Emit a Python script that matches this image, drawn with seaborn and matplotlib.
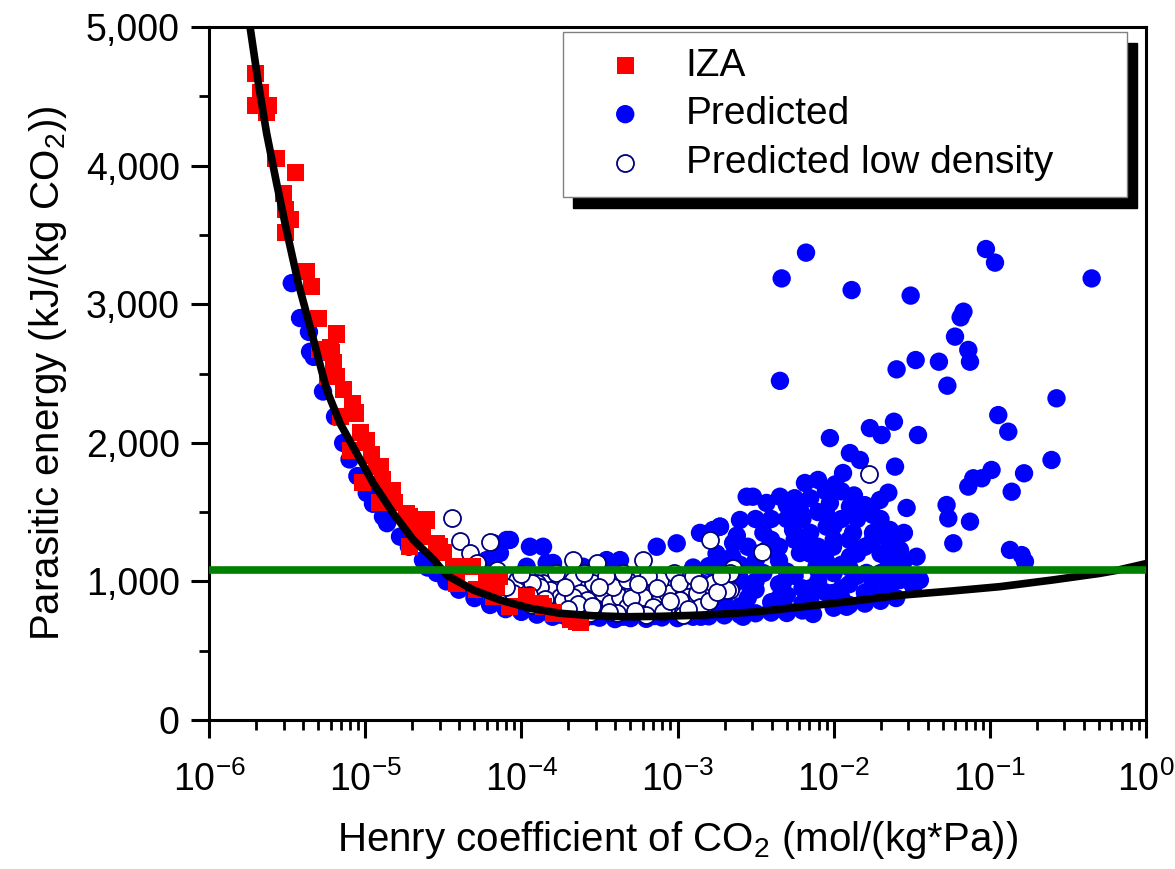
import numpy as np
import pandas as pd
import matplotlib
matplotlib.use("Agg")
import matplotlib.pyplot as plt
import seaborn as sns
from matplotlib.ticker import LogLocator, MultipleLocator, FuncFormatter, NullFormatter

# ---------------- data (log10 of Henry coefficient, parasitic energy) ----------------
iza_log10_h = [-5.701, -5.673, -5.705, -5.622, -5.630, -5.571, -5.449, -5.520, -5.513, -5.481,
               -5.513, -5.374, -5.342, -5.300, -5.182, -5.225, -5.214, -5.205, -5.182, -5.141,
               -5.078, -5.065, -5.033, -5.001, -4.958, -4.926, -4.886, -4.841, -4.809, -4.734,
               -4.694, -4.649, -4.713, -4.542, -5.014, -4.905, -5.097, -5.161, -5.238, -5.290,
               -5.182, -4.990, -4.905, -4.822, -4.713, -4.630, -4.521, -4.437, -4.414, -4.286,
               -4.222, -4.181, -3.966, -3.880, -3.797, -3.646, -4.073, -4.137, -4.310, -4.500,
               -4.606, -4.374, -4.158, -3.861, -3.688, -3.624]
iza_energy = [4661, 4524, 4437, 4437, 4380, 4048, 3947, 3802, 3680, 3608,
              3514, 3235, 3126, 2900, 2778, 2691, 2648, 2576, 2477, 2381,
              2287, 2215, 2071, 1999, 1912, 1828, 1732, 1659, 1566, 1493,
              1395, 1323, 1250, 1277, 1710, 1566, 1948, 2189, 2477, 2670,
              2790, 2020, 1828, 1659, 1467, 1347, 1250, 1106, 988, 938,
              1010, 890, 890, 844, 772, 709, 817, 1034, 1106, 1205,
              1443, 1106, 962, 817, 722, 705]

pred_log10_h = [
    # left arm
    -5.470, -5.417, -5.353, -5.270, -5.193, -5.141, -4.990, -4.886, -4.777, -4.630,
    -4.542, -5.360, -5.330, -5.100, -5.050, -4.950, -4.860, -4.720, -4.600, -4.480,
    -4.400, -4.300, -4.200, -4.100, -4.000, -3.900,
    # around 1e-4 above the green line
    -4.181, -4.094, -4.073, -3.945, -3.861, -4.137, -4.222, -3.838, -3.797, -3.966,
    -3.605, -3.454, -3.368, -3.133, -3.005, -2.856, -2.773, -2.728, -2.557,
    # lower band
    -3.800, -3.700, -3.600, -3.500, -3.400, -3.300, -3.200, -3.100, -3.000, -2.900,
    -2.800, -2.700, -2.600, -2.500, -2.400, -2.300, -2.200, -2.132, -2.300, -2.580,
    -2.000, -1.900, -1.800, -1.700, -1.600,
    -3.750, -3.550, -3.350, -3.150, -2.950, -2.850,
    # between curve and green line
    -3.500, -3.400, -3.300, -3.200, -3.100, -3.000, -2.950, -2.900, -2.850, -2.800,
    -2.750, -2.700, -2.650, -2.600, -2.550, -2.500, -2.450, -2.400, -2.350, -2.300,
    -2.250, -2.200, -2.150, -2.100, -2.050, -2.000, -1.950, -1.900, -1.850, -1.800,
    -1.750, -1.700, -1.650, -1.600, -1.550, -1.500, -1.460, -2.600, -2.400, -2.200,
    -2.000, -1.800, -2.700, -2.500, -2.300, -2.100, -1.900, -2.850, -3.050, -2.350,
    -2.150, -1.950, -1.750, -1.650,
    # main cloud above green line
    -2.024, -1.768, -1.693, -1.614, -1.460, -1.896, -1.832, -1.940, -1.607, -2.184,
    -2.100, -2.517, -2.344, -2.430, -2.216, -2.024, -1.896, -1.704, -1.533, -1.748,
    -1.640, -1.876, -2.600, -2.728, -2.045, -2.260, -2.004, -1.575, -1.469, -1.448,
    -1.575, -2.430, -2.644, -2.216, -1.896, -2.110, -1.790, -1.684, -2.325, -2.536,
    -2.004, -2.152, -1.917, -2.300, -2.728, -1.490,
    -2.400, -2.300, -2.200, -2.100, -2.000, -1.950, -1.850, -1.800, -1.700, -1.650,
    -2.500, -2.350, -2.150, -2.050, -1.950, -1.600, -1.550, -2.700, -2.600, -2.800,
    -2.900, -1.750, -2.050, -2.250, -1.650,
    -2.750, -2.650, -2.550, -2.450, -2.400, -2.350, -2.300, -2.250, -2.200, -2.150,
    -2.100, -2.050, -2.000, -1.950, -1.900, -1.850, -1.800, -1.750, -1.700, -1.650,
    -1.600, -1.550, -2.500, -2.620, -2.150, -1.990, -1.870,
    # scattered high values
    -2.177, -2.333, -1.885, -1.507, -1.025, -0.967, -0.348, -1.169, -1.187, -1.223,
    -1.138, -1.127, -2.344, -1.597, -1.475, -1.326, -1.272, -0.573, -0.946, -0.882,
    -0.605, -0.781, -0.860, -0.989, -1.106, -1.052, -1.138, -1.277, -1.266, -1.127,
    -1.234, -0.871, -0.796, -0.775,
]
pred_energy = [
    3152, 2900, 2657, 2370, 2189, 1999, 1638, 1467, 1323, 1154,
    1061, 2800, 2620, 1880, 1760, 1560, 1420, 1250, 1100, 1000,
    940, 880, 830, 800, 780, 760,
    1277, 1299, 1299, 1250, 1250, 1205, 1154, 1133, 1133, 1106,
    1106, 1154, 1154, 1250, 1275, 1350, 1371, 1395, 1611,
    745, 735, 730, 738, 728, 735, 730, 740, 735, 745,
    748, 755, 760, 770, 775, 790, 790, 765, 780, 745,
    810, 830, 840, 860, 880,
    760, 750, 745, 750, 755, 745,
    800, 850, 900, 820, 880, 950, 1040, 860, 990, 920,
    1050, 840, 960, 1020, 880, 940, 1060, 850, 980, 900,
    1040, 950, 870, 1000, 920, 1060, 880, 980, 1040, 920,
    990, 1060, 950, 1010, 1070, 990, 1040, 820, 800, 840,
    880, 870, 900, 1000, 1070, 1080, 1100, 830, 800, 880,
    950, 950, 900, 1030,
    2034, 2106, 2056, 2152, 2056, 1926, 1876, 1782, 1828, 1710,
    1732, 1611, 1611, 1566, 1515, 1566, 1539, 1587, 1530, 1350,
    1371, 1350, 1443, 1395, 1395, 1371, 1250, 1227, 1178, 1010,
    1010, 1227, 1277, 1205, 1178, 1106, 1061, 1034, 988, 962,
    916, 866, 817, 772, 817, 962,
    1300, 1450, 1300, 1500, 1400, 1650, 1450, 1250, 1200, 1150,
    1150, 1150, 1200, 1150, 1120, 1120, 1150, 1150, 1120, 1110,
    1100, 1480, 1650, 1600, 1640,
    1200, 1180, 1250, 1350, 1450, 1250, 1550, 1300, 1450, 1350,
    1250, 1500, 1300, 1450, 1300, 1200, 1550, 1300, 1450, 1300,
    1250, 1350, 1450, 1330, 1600, 1700, 1620,
    3372, 3186, 3102, 3062, 3398, 3300, 3186, 2946, 2905, 2766,
    2670, 2585, 2447, 2530, 2597, 2585, 2412, 2321, 2200, 2080,
    1876, 1780, 1647, 1804, 1744, 1744, 1684, 1551, 1455, 1431,
    1275, 1227, 1190, 1142,
]

low_log10_h = [-4.445, -4.393, -4.329, -4.200, -3.669, -3.517, -3.221, -2.792, -2.645, -2.461,
               -1.772, -2.664, -2.837, -4.286, -4.158, -4.030, -3.861, -4.053, -3.966, -3.816,
               -3.752, -3.669, -3.624, -3.582, -3.541, -3.477, -3.432, -3.390, -3.368, -3.325,
               -3.285, -3.240, -3.176, -3.157, -3.112, -3.069, -3.048, -3.005, -2.965, -2.920,
               -2.877, -2.837, -2.773, -3.902, -3.880, -3.733, -3.669, -3.413, -3.325, -3.221,
               -3.157, -3.069, -2.984, -2.877, -2.856, -2.685, -2.664, -2.941, -3.112, -3.390,
               -3.560, -2.965, -3.200, -3.930,
               -3.950, -3.850, -3.780, -3.720, -3.640, -3.600, -3.550, -3.460, -3.440, -3.350,
               -3.300, -3.270, -3.190, -3.130, -3.090, -3.020, -2.990, -2.930, -2.900, -2.800,
               -2.750, -2.720, -4.100, -4.000, -3.930, -3.700, -3.500, -3.250, -3.050, -2.860]
low_energy = [1460, 1290, 1204, 1282, 1154, 1133, 1154, 1299, 1100, 1214,
              1775, 938, 916, 1133, 1082, 1010, 988, 916, 1034, 938,
              890, 1010, 916, 866, 988, 916, 844, 962, 890, 817,
              938, 866, 794, 916, 866, 817, 1010, 916, 817, 962,
              866, 794, 988, 988, 962, 866, 890, 962, 1010, 890,
              817, 916, 866, 916, 817, 938, 1061, 1010, 1010, 772,
              772, 760, 760, 990,
              900, 870, 1060, 960, 840, 1060, 820, 1040, 780, 1060,
              880, 790, 1040, 950, 780, 1060, 990, 800, 1040, 860,
              920, 1040, 960, 1050, 830, 800, 960, 980, 860, 980]

curve_log10_h = [-5.737, -5.684, -5.631, -5.567, -5.503, -5.428, -5.353, -5.246, -5.161, -5.054,
                 -4.948, -4.820, -4.692, -4.649, -4.564, -4.478, -4.308, -4.137, -3.945, -3.752,
                 -3.539, -3.325, -3.112, -2.899, -2.728, -2.500, -2.216, -1.900, -1.575, -1.250,
                 -0.935, -0.600, -0.295, -0.186, 0.000]
curve_energy = [5000, 4594, 4233, 3872, 3530, 3151, 2838, 2381, 2141, 1924,
                1708, 1491, 1300, 1252, 1160, 1045, 938, 866, 806, 770,
                752, 745, 748, 755, 763, 780, 815, 855, 900, 930,
                962, 1010, 1058, 1080, 1128]

threshold_energy = 1080

x_label = "Henry coefficient of CO$_2$ (mol/(kg*Pa))"
y_label = "Parasitic energy (kJ/(kg CO$_2$))"
series_labels = ["IZA", "Predicted", "Predicted low density"]

# ---------------- style ----------------
sns.set_style("ticks")
plt.rcParams['font.family'] = ['Liberation Sans', 'DejaVu Sans']
plt.rcParams['mathtext.fontset'] = 'custom'
plt.rcParams['mathtext.rm'] = 'Liberation Sans'
plt.rcParams['mathtext.it'] = 'Liberation Sans:italic'
plt.rcParams['mathtext.bf'] = 'Liberation Sans:bold'
for key in ['text.color', 'axes.labelcolor', 'xtick.color', 'ytick.color', 'axes.edgecolor']:
    plt.rcParams[key] = 'black'

W, H = 1175, 869
fig = plt.figure(figsize=(W / 100, H / 100), dpi=100)
ax = fig.add_axes([209 / W, 1 - 720 / H, (1146 - 209) / W, (720 - 27) / H])

pred_df = pd.DataFrame({"H": np.power(10.0, pred_log10_h), "E": pred_energy})
low_df = pd.DataFrame({"H": np.power(10.0, low_log10_h), "E": low_energy})
iza_df = pd.DataFrame({"H": np.power(10.0, iza_log10_h), "E": iza_energy})
curve_df = pd.DataFrame({"H": np.power(10.0, curve_log10_h), "E": curve_energy})

sns.scatterplot(data=pred_df, x="H", y="E", marker="o", s=175, color="#0000FF",
                edgecolor="none", linewidth=0, label=series_labels[1], ax=ax, zorder=2)
sns.scatterplot(data=low_df, x="H", y="E", marker="o", s=150, color="white",
                edgecolor="#000080", linewidth=1.3, label=series_labels[2], ax=ax, zorder=3)
sns.scatterplot(data=iza_df, x="H", y="E", marker="s", s=150, color="#FF0000",
                edgecolor="none", linewidth=0, label=series_labels[0], ax=ax, zorder=4)
sns.lineplot(data=curve_df, x="H", y="E", color="black", linewidth=5.5, estimator=None,
             ax=ax, zorder=5, legend=False)
ax.axhline(threshold_energy, color="#008000", linewidth=5.5, zorder=6)

ax.set_xscale("log")
ax.set_xlim(1e-6, 1)
ax.set_ylim(0, 5000)
ax.yaxis.set_major_locator(MultipleLocator(1000))
ax.yaxis.set_minor_locator(MultipleLocator(500))
ax.yaxis.set_major_formatter(FuncFormatter(lambda v, p: f"{int(round(v)):,}"))
ax.xaxis.set_major_locator(LogLocator(base=10, numticks=10))
ax.xaxis.set_minor_locator(LogLocator(base=10, subs=np.arange(2, 10), numticks=20))
ax.xaxis.set_minor_formatter(NullFormatter())

ax.tick_params(axis="both", which="major", direction="out", length=13, width=2.2,
               top=False, right=False, colors="black")
ax.tick_params(axis="both", which="minor", direction="out", length=7, width=2,
               top=False, right=False, colors="black")
ax.tick_params(axis="x", which="major", labelsize=27, pad=17)
ax.tick_params(axis="y", which="major", labelsize=27, pad=8)
for sp in ax.spines.values():
    sp.set_linewidth(2.2)
    sp.set_color("black")
    sp.set_visible(True)

ax.set_xlabel(x_label, fontsize=29, labelpad=14, color="black")
ax.set_ylabel(y_label, fontsize=29, labelpad=12, color="black")

handles, labels = ax.get_legend_handles_labels()
order = [labels.index(l) for l in series_labels]
leg = ax.legend([handles[i] for i in order], [labels[i] for i in order],
                loc="upper left", mode="expand",
                bbox_to_anchor=(563 / W, 1 - 192 / H, (1127 - 563) / W, 160 / H),
                bbox_transform=fig.transFigure,
                fontsize=28, frameon=True, fancybox=False, framealpha=1,
                edgecolor="#808080", borderpad=0.4, handlelength=2.4,
                handletextpad=0.35, labelspacing=0.33, borderaxespad=0,
                shadow={"ox": 7, "oy": -8, "facecolor": "black",
                        "edgecolor": "black", "alpha": 1})
leg.get_frame().set_linewidth(1.0)
leg.set_zorder(10)
for t in leg.get_texts():
    t.set_color("black")

fig.savefig("out.png", dpi=100)
